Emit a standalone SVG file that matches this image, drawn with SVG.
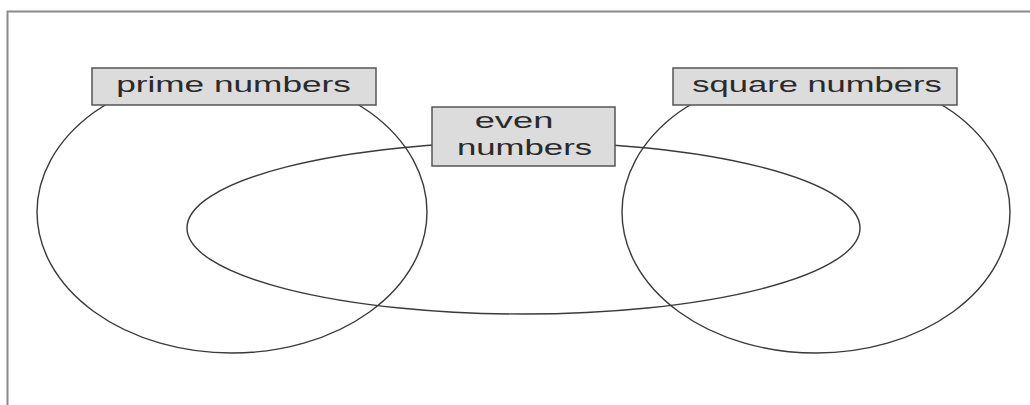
<svg xmlns="http://www.w3.org/2000/svg" width="1030" height="405" viewBox="0 0 1030 405">
<style>
.frame{fill:none;stroke:#8a8a8a;stroke-width:2}
.set{fill:none;stroke:#3a3a3a;stroke-width:1.4}
.box{fill:#dcdcdc;stroke:#555;stroke-width:1.5}
.lbl{font-family:"Liberation Sans",Arial,sans-serif;font-size:22px;fill:#2a2a2a;text-anchor:middle}
</style>
<rect width="1030" height="405" fill="#fff"/>
<path class="frame" d="M7.5 405 V11.5 H1030"/>
<g id="connectors">
<ellipse id="set-prime" class="set" cx="232" cy="212" rx="195" ry="141"/>
<ellipse id="set-square" class="set" cx="816" cy="212" rx="194" ry="141"/>
<ellipse id="set-even" class="set" cx="523.5" cy="228" rx="336.5" ry="86"/>
</g>
<g id="prime">
<rect class="box" x="92" y="68" width="284" height="37"/>
<text class="lbl" transform="translate(233.5,92) scale(1.6,1)">prime numbers</text>
</g>
<g id="square">
<rect class="box" x="673" y="68" width="284" height="37"/>
<text class="lbl" transform="translate(817,92) scale(1.57,1)">square numbers</text>
</g>
<g id="even">
<rect class="box" x="432" y="107" width="183" height="59"/>
<text class="lbl" transform="translate(514,128) scale(1.65,1)">even</text>
<text class="lbl" transform="translate(524.5,155) scale(1.58,1)">numbers</text>
</g>
</svg>
